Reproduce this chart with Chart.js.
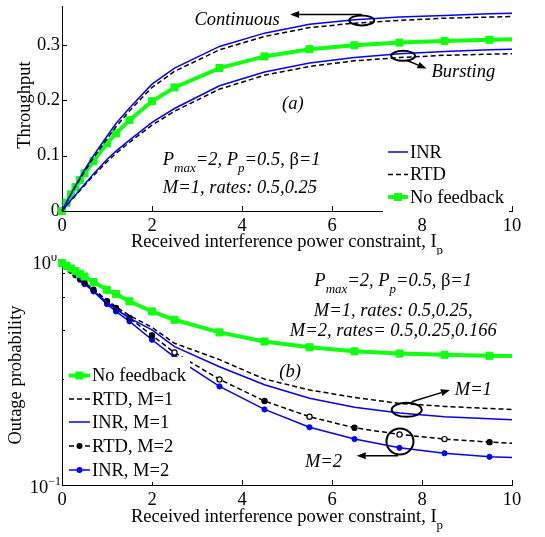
<!DOCTYPE html>
<html>
<head>
<meta charset="utf-8">
<script src="https://cdn.jsdelivr.net/npm/chart.js@4.4.0/dist/chart.umd.min.js"></script>
<style>
  body { margin: 0; background: #fff; }
  #wrap { position: relative; width: 545px; height: 537px; }
  #top { position: absolute; left: 0; top: 0; }
  #bot { position: absolute; left: 0; top: 255px; }
</style>
</head>
<body>
<div id="wrap">
  <canvas id="top" width="545" height="255"></canvas>
  <canvas id="bot" width="545" height="282"></canvas>
</div>
<script>
// received interference power constraint Ip (x axis, both plots)
const ip = [0, 0.1, 0.2, 0.3, 0.4, 0.5, 0.7, 1, 1.2, 1.5, 2, 2.5, 3.5, 4.5, 5.5, 6.5, 7.5, 8.5, 9.5, 10];

// (a) throughput
const thrInrCont  = [0, 0.016, 0.031, 0.046, 0.060, 0.074, 0.100, 0.135, 0.158, 0.186, 0.229, 0.258, 0.297, 0.321, 0.337, 0.345, 0.350, 0.353, 0.356, 0.357];
const thrRtdCont  = [0, 0.015, 0.030, 0.044, 0.058, 0.071, 0.096, 0.130, 0.152, 0.181, 0.223, 0.252, 0.291, 0.315, 0.331, 0.339, 0.344, 0.348, 0.350, 0.351];
const thrInrBurst = [0, 0.010, 0.020, 0.029, 0.039, 0.048, 0.067, 0.093, 0.108, 0.128, 0.160, 0.185, 0.226, 0.251, 0.267, 0.277, 0.284, 0.288, 0.291, 0.292];
const thrRtdBurst = [0, 0.0095, 0.019, 0.028, 0.037, 0.046, 0.064, 0.089, 0.104, 0.124, 0.155, 0.180, 0.220, 0.245, 0.261, 0.271, 0.277, 0.281, 0.283, 0.284];
const thrNoFb     = [0, 0.015, 0.030, 0.043, 0.056, 0.068, 0.090, 0.122, 0.140, 0.164, 0.198, 0.223, 0.258, 0.279, 0.292, 0.299, 0.304, 0.307, 0.309, 0.310];

// (b) outage probability
const outNoFb  = [1, 0.972, 0.945, 0.919, 0.894, 0.869, 0.821, 0.758, 0.724, 0.672, 0.605, 0.555, 0.487, 0.443, 0.417, 0.400, 0.391, 0.386, 0.382, 0.381];
const outRtdM1 = [1, 0.962, 0.925, 0.888, 0.852, 0.818, 0.762, 0.680, 0.635, 0.580, 0.513, 0.435, 0.367, 0.300, 0.268, 0.248, 0.233, 0.226, 0.221, 0.219];
const outInrM1 = [1, 0.960, 0.920, 0.880, 0.842, 0.806, 0.750, 0.665, 0.620, 0.565, 0.500, 0.420, 0.341, 0.283, 0.246, 0.224, 0.211, 0.203, 0.199, 0.197];
const outRtdM2 = [1, 0.962, 0.925, 0.887, 0.850, 0.815, 0.758, 0.672, 0.627, 0.565, 0.472, 0.395, 0.299, 0.239, 0.203, 0.181, 0.169, 0.161, 0.156, 0.154];
const outInrM2 = [1, 0.960, 0.920, 0.880, 0.841, 0.804, 0.745, 0.653, 0.605, 0.546, 0.451, 0.377, 0.278, 0.219, 0.182, 0.161, 0.147, 0.139, 0.134, 0.133];

const xTicks = [0, 2, 4, 6, 8, 10];
const yTicksTop = [0, 0.1, 0.2, 0.3];
const yTicksBot = [0.1, 0.2, 0.3, 0.4, 0.5, 0.6, 0.7, 0.8, 0.9, 1];
const hollowRtdM2 = [11, 12, 14, 16, 17]; // markers that look open in the figure

const SERIF = '"Liberation Serif", "Times New Roman", serif';
const FS = 18.5;
const BLUE = '#0000ff';
const GREEN = '#11ff11';

function font(size, italic) {
  return (italic ? 'italic ' : '') + size + 'px ' + SERIF;
}

function pts(arr) {
  return ip.map((x, i) => ({ x: x, y: arr[i] }));
}

// no marker on the last (x = 10) sample
function markerRadius(r) {
  return ip.map((x, i) => i === ip.length - 1 ? 0 : r);
}

function series(arr, kind) {
  const d = { data: pts(arr), clip: false, fill: false, tension: 0, pointRadius: 0, borderWidth: 1.5 };
  if (kind === 'blue') {
    d.borderColor = BLUE;
  } else if (kind === 'dash') {
    d.borderColor = '#000';
    d.borderDash = [5, 3];
  } else if (kind === 'green') {
    d.borderColor = GREEN;
    d.borderWidth = 4;
    d.pointStyle = 'rect';
    d.pointRadius = markerRadius(5);
    d.pointBackgroundColor = GREEN;
    d.pointBorderColor = GREEN;
    d.pointBorderWidth = 1;
  } else if (kind === 'blueDot') {
    d.borderColor = BLUE;
    d.pointRadius = markerRadius(2.6);
    d.pointBackgroundColor = BLUE;
    d.pointBorderColor = BLUE;
    d.pointBorderWidth = 1;
  } else if (kind === 'dashDot') {
    d.borderColor = '#000';
    d.borderDash = [5, 3];
    d.pointRadius = markerRadius(2.6);
    d.pointBackgroundColor = ip.map((x, i) => hollowRtdM2.includes(i) ? '#fff' : '#000');
    d.pointBorderColor = '#000';
    d.pointBorderWidth = 1.2;
  }
  return d;
}

// draw a row of text pieces: [text, size, italic, dy]
function textRuns(ctx, list, x, y, align) {
  let w = 0;
  list.forEach(r => { ctx.font = font(r[1], r[2]); w += ctx.measureText(r[0]).width; });
  let cx = align === 'center' ? x - w / 2 : (align === 'right' ? x - w : x);
  ctx.textAlign = 'left';
  ctx.textBaseline = 'alphabetic';
  ctx.fillStyle = '#000';
  list.forEach(r => {
    ctx.font = font(r[1], r[2]);
    ctx.fillText(r[0], cx, y + (r[3] || 0));
    cx += ctx.measureText(r[0]).width;
  });
}

function arrow(ctx, x1, y1, x2, y2) {
  const a = Math.atan2(y2 - y1, x2 - x1);
  const L = 9, H = 3.5;
  ctx.save();
  ctx.strokeStyle = '#000';
  ctx.fillStyle = '#000';
  ctx.lineWidth = 1.5;
  ctx.setLineDash([]);
  ctx.beginPath();
  ctx.moveTo(x1, y1);
  ctx.lineTo(x2 - L * Math.cos(a), y2 - L * Math.sin(a));
  ctx.stroke();
  ctx.beginPath();
  ctx.moveTo(x2, y2);
  ctx.lineTo(x2 - L * Math.cos(a) + H * Math.sin(a), y2 - L * Math.sin(a) - H * Math.cos(a));
  ctx.lineTo(x2 - L * Math.cos(a) - H * Math.sin(a), y2 - L * Math.sin(a) + H * Math.cos(a));
  ctx.closePath();
  ctx.fill();
  ctx.restore();
}

function ellipse(ctx, cx, cy, rx, ry) {
  ctx.save();
  ctx.strokeStyle = '#000';
  ctx.lineWidth = 2;
  ctx.setLineDash([]);
  ctx.beginPath();
  ctx.ellipse(cx, cy, rx, ry, 0, 0, Math.PI * 2);
  ctx.stroke();
  ctx.restore();
}

function drawMarker(ctx, d, x, y) {
  if (d.pointStyle === 'rect') {
    ctx.fillStyle = d.pointBackgroundColor;
    ctx.fillRect(x - 4, y - 4, 8, 8);
  } else {
    ctx.fillStyle = d.borderColor;
    ctx.beginPath();
    ctx.arc(x, y, 3, 0, Math.PI * 2);
    ctx.fill();
  }
}

function drawLegend(ctx, box, items, x0, x1, tx) {
  ctx.fillStyle = '#fff';
  ctx.fillRect(box[0], box[1], box[2] - box[0], box[3] - box[1]);
  items.forEach(it => {
    const d = it.ds;
    ctx.save();
    ctx.strokeStyle = d.borderColor;
    ctx.lineWidth = d.borderWidth;
    ctx.setLineDash(d.borderDash || []);
    ctx.beginPath();
    ctx.moveTo(x0, it.y);
    ctx.lineTo(x1, it.y);
    ctx.stroke();
    ctx.restore();
    if (it.marker) drawMarker(ctx, d, (x0 + x1) / 2, it.y);
    ctx.fillStyle = '#000';
    ctx.font = font(FS, false);
    ctx.textAlign = 'left';
    ctx.textBaseline = 'middle';
    ctx.fillText(it.label, tx, it.y + 1);
  });
}

// inward tick marks like the original figure
function drawTicks(chart, minorLen, majorLen, majorVals) {
  const ctx = chart.ctx, a = chart.chartArea;
  const xs = chart.scales.x, ys = chart.scales.y;
  ctx.save();
  ctx.strokeStyle = '#000';
  ctx.lineWidth = 1;
  ctx.beginPath();
  xs.ticks.forEach(t => {
    const p = Math.round(xs.getPixelForValue(t.value)) + 0.5;
    ctx.moveTo(p, a.bottom);
    ctx.lineTo(p, a.bottom - majorLen);
  });
  ys.ticks.forEach(t => {
    const p = Math.round(ys.getPixelForValue(t.value)) + 0.5;
    const len = majorVals.includes(t.value) ? majorLen : minorLen;
    ctx.moveTo(a.left, p);
    ctx.lineTo(a.left + len, p);
  });
  ctx.stroke();
  ctx.restore();
}

function xTitle(ctx, chart, y) {
  const a = chart.chartArea;
  textRuns(ctx, [
    ['Received interference power constraint, I', FS, false],
    ['p', 13, false, 7]
  ], (a.left + a.right) / 2, y, 'center');
}

function yTitle(ctx, text, x, y) {
  ctx.save();
  ctx.translate(x, y);
  ctx.rotate(-Math.PI / 2);
  ctx.fillStyle = '#000';
  ctx.font = font(FS, false);
  ctx.textAlign = 'center';
  ctx.textBaseline = 'middle';
  ctx.fillText(text, 0, 0);
  ctx.restore();
}

function baseScales(yOpts, xHeight) {
  return {
    x: {
      type: 'linear', min: 0, max: 10,
      afterBuildTicks: s => { s.ticks = xTicks.map(v => ({ value: v })); },
      ticks: { font: { family: SERIF, size: FS }, color: '#000', padding: 4, maxRotation: 0, callback: v => String(v) },
      grid: { display: false, drawTicks: false },
      border: { display: true, color: '#000', width: 1 },
      afterFit: s => { s.height = xHeight; s.paddingLeft = 0; s.paddingRight = 0; }
    },
    y: Object.assign({
      grid: { display: false, drawTicks: false },
      border: { display: true, color: '#000', width: 1 },
      afterFit: s => { s.width = 62; s.paddingTop = 0; s.paddingBottom = 0; }
    }, yOpts)
  };
}

// ---------- (a) throughput ----------
const dsA = [
  series(thrInrCont, 'blue'),
  series(thrRtdCont, 'dash'),
  series(thrInrBurst, 'blue'),
  series(thrRtdBurst, 'dash'),
  series(thrNoFb, 'green')
];

const decoA = {
  id: 'decoA',
  afterDatasetsDraw(chart) {
    const ctx = chart.ctx;
    const X = v => chart.scales.x.getPixelForValue(v);
    const Y = v => chart.scales.y.getPixelForValue(v);
    drawTicks(chart, 5, 5, yTicksTop);

    drawLegend(ctx, [383, 138, 509, 213], [
      { ds: dsA[0], label: 'INR', y: 152 },
      { ds: dsA[1], label: 'RTD', y: 174.5 },
      { ds: dsA[4], label: 'No feedback', y: 197, marker: true }
    ], 388, 408, 410);

    // Continuous
    ellipse(ctx, X(6.66), Y(0.344), 12.5, 5);
    arrow(ctx, X(6.66), Y(0.3545), X(5.07), Y(0.3545));
    ctx.font = font(FS, true);
    ctx.fillStyle = '#000';
    ctx.textAlign = 'center';
    ctx.textBaseline = 'middle';
    ctx.fillText('Continuous', X(3.89), Y(0.344));
    // Bursting
    ellipse(ctx, X(7.58), Y(0.280), 12, 5);
    arrow(ctx, X(7.66), Y(0.272), X(8.10), Y(0.257));
    ctx.font = font(FS, true);
    ctx.textAlign = 'center';
    ctx.textBaseline = 'middle';
    ctx.fillText('Bursting', X(8.92), Y(0.250));
    ctx.fillText('(a)', X(5.13), Y(0.193));

    textRuns(ctx, [
      ['P', FS, true], ['max', 13, true, 7], ['=2, P', FS, true], ['p', 13, true, 7],
      ['=0.5, ', FS, true], ['\u03b2', FS, false], ['=1', FS, true]
    ], X(2.24), Y(0.083), 'left');
    textRuns(ctx, [['M=1, rates: 0.5,0.25', FS, true]], X(2.24), Y(0.032), 'left');

    xTitle(ctx, chart, 246.5);
    yTitle(ctx, 'Throughput', 25, 105);
  }
};

new Chart(document.getElementById('top'), {
  type: 'line',
  data: { datasets: dsA },
  options: {
    responsive: false,
    animation: false,
    layout: { padding: { left: 0, right: 33, top: 2, bottom: 0 } },
    plugins: { legend: { display: false }, tooltip: { enabled: false } },
    scales: baseScales({
      type: 'linear', min: 0, max: 0.37,
      afterBuildTicks: s => { s.ticks = yTicksTop.map(v => ({ value: v })); },
      ticks: { font: { family: SERIF, size: FS }, color: '#000', padding: 2, callback: v => String(v) }
    }, 44)
  },
  plugins: [decoA]
});

// ---------- (b) outage probability ----------
const dsB = [
  series(outNoFb, 'green'),
  series(outRtdM1, 'dash'),
  series(outInrM1, 'blue'),
  series(outRtdM2, 'dashDot'),
  series(outInrM2, 'blueDot')
];

const decoB = {
  id: 'decoB',
  afterDatasetsDraw(chart) {
    const ctx = chart.ctx;
    const X = v => chart.scales.x.getPixelForValue(v);
    const Y = v => chart.scales.y.getPixelForValue(v);
    drawTicks(chart, 3, 5, [0.1, 1]);

    drawLegend(ctx, [64, 102, 190, 227], [
      { ds: dsB[0], label: 'No feedback', y: 120.5, marker: true },
      { ds: dsB[1], label: 'RTD, M=1', y: 144 },
      { ds: dsB[2], label: 'INR, M=1', y: 167 },
      { ds: dsB[3], label: 'RTD, M=2', y: 191, marker: true },
      { ds: dsB[4], label: 'INR, M=2', y: 215, marker: true }
    ], 69, 90, 92);

    // log tick labels 10^0 and 10^-1
    const a = chart.chartArea;
    textRuns(ctx, [['10', FS, false], ['0', 12, false, -8]], a.left - 5, Y(1) + 6, 'right');
    textRuns(ctx, [['10', FS, false], ['\u22121', 12, false, -8]], a.left - 1, Y(0.1) + 8, 'right');

    textRuns(ctx, [
      ['P', FS, true], ['max', 13, true, 7], ['=2, P', FS, true], ['p', 13, true, 7],
      ['=0.5, ', FS, true], ['\u03b2', FS, false], ['=1', FS, true]
    ], X(7.36), Y(0.790), 'center');
    textRuns(ctx, [['M=1, rates: 0.5,0.25,', FS, true]], X(7.36), Y(0.579), 'center');
    textRuns(ctx, [['M=2, rates= 0.5,0.25,0.166', FS, true]], X(7.36), Y(0.469), 'center');

    ctx.font = font(FS, true);
    ctx.fillStyle = '#000';
    ctx.textAlign = 'center';
    ctx.textBaseline = 'middle';
    ctx.fillText('(b)', X(5.07), Y(0.324));
    ctx.fillText('M=1', X(9.14), Y(0.268));
    ctx.fillText('M=2', X(5.81), Y(0.127));

    ellipse(ctx, X(7.66), Y(0.218), 15, 7);
    arrow(ctx, X(7.77), Y(0.237), X(8.62), Y(0.268));
    ellipse(ctx, X(7.51), Y(0.157), 13.5, 13);
    arrow(ctx, X(7.47), Y(0.1355), X(6.55), Y(0.1355));

    xTitle(ctx, chart, 266.5);
    yTitle(ctx, 'Outage probability', 16, 120);
  }
};

new Chart(document.getElementById('bot'), {
  type: 'line',
  data: { datasets: dsB },
  options: {
    responsive: false,
    animation: false,
    layout: { padding: { left: 0, right: 33, top: 8, bottom: 0 } },
    plugins: { legend: { display: false }, tooltip: { enabled: false } },
    scales: baseScales({
      type: 'logarithmic', min: 0.1, max: 1,
      afterBuildTicks: s => { s.ticks = yTicksBot.map(v => ({ value: v })); },
      ticks: { font: { family: SERIF, size: FS }, color: '#000', padding: 2, callback: () => '' }
    }, 52)
  },
  plugins: [decoB]
});
</script>
</body>
</html>
